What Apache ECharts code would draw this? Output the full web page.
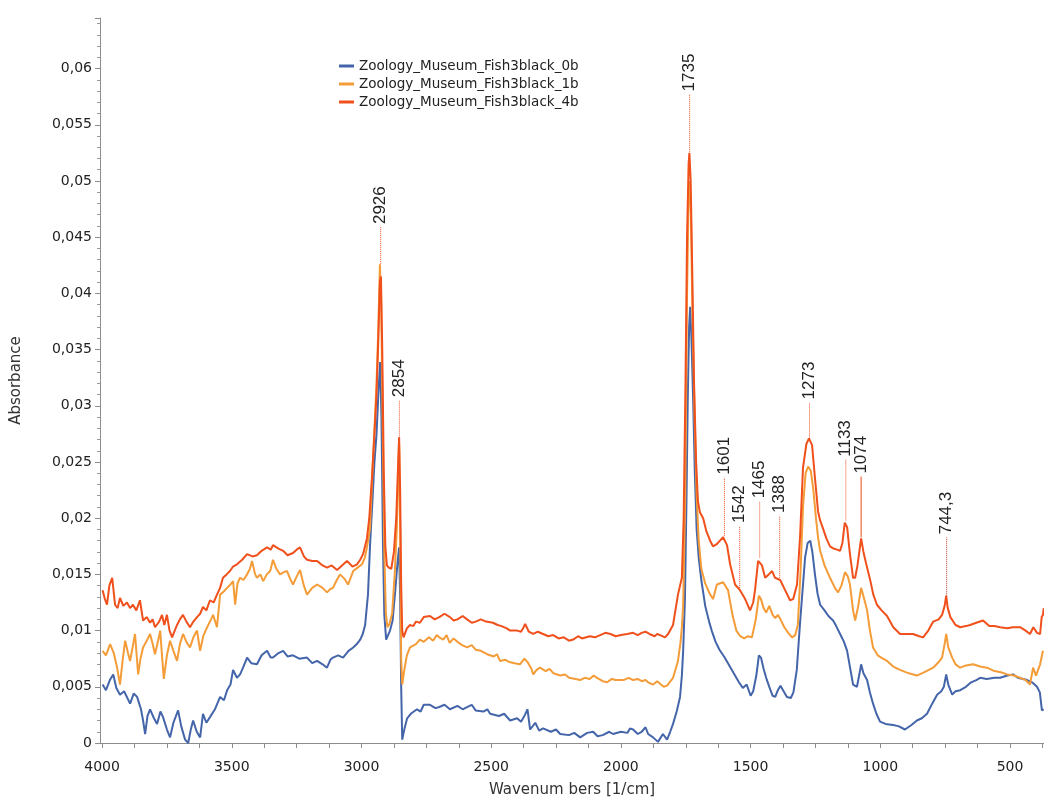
<!DOCTYPE html>
<html><head><meta charset="utf-8">
<script src="https://cdn.jsdelivr.net/npm/echarts@6/dist/echarts.min.js"></script>
<style>html,body{margin:0;padding:0;background:#fff}#c{width:1044px;height:803px}</style>
</head><body><div id="c"></div>
<script>
const seriesNames = ['Zoology_Museum_Fish3black_0b', 'Zoology_Museum_Fish3black_1b', 'Zoology_Museum_Fish3black_4b'];

const spectrum0b = [[3998,0.0052],[3985,0.0047],[3970,0.0056],[3957,0.0061],[3945,0.0049],[3931,0.0043],[3915,0.0046],[3892,0.0035],[3878,0.0044],[3865,0.0041],[3850,0.0030],[3842,0.0020],[3834,0.0008],[3825,0.0024],[3815,0.0030],[3800,0.0022],[3788,0.0017],[3775,0.0028],[3765,0.0023],[3750,0.0012],[3738,0.0005],[3725,0.0018],[3707,0.0029],[3695,0.0015],[3680,0.0003],[3668,0.0000],[3658,0.0012],[3649,0.0020],[3635,0.0010],[3622,0.0005],[3611,0.0026],[3598,0.0018],[3584,0.0023],[3565,0.0030],[3545,0.0041],[3530,0.0038],[3518,0.0047],[3505,0.0052],[3495,0.0065],[3480,0.0058],[3468,0.0061],[3455,0.0068],[3441,0.0076],[3425,0.0071],[3403,0.0070],[3385,0.0078],[3364,0.0082],[3350,0.0076],[3341,0.0076],[3320,0.0080],[3302,0.0082],[3285,0.0077],[3264,0.0078],[3240,0.0075],[3210,0.0076],[3190,0.0071],[3171,0.0073],[3150,0.0070],[3133,0.0067],[3120,0.0074],[3110,0.0076],[3090,0.0078],[3071,0.0076],[3050,0.0082],[3032,0.0085],[3018,0.0088],[3005,0.0092],[2995,0.0097],[2986,0.0105],[2975,0.0132],[2967,0.0176],[2958,0.0215],[2950,0.025],[2942,0.0275],[2935,0.031],[2928,0.0339],[2923,0.029],[2917,0.0174],[2912,0.0114],[2905,0.0092],[2898,0.0093],[2890,0.0100],[2880,0.0109],[2870,0.0135],[2862,0.0158],[2855,0.0174],[2851,0.013],[2847,0.005],[2843,0.0003],[2835,0.0012],[2824,0.0022],[2810,0.0026],[2786,0.0030],[2772,0.0028],[2760,0.0034],[2736,0.0034],[2715,0.0031],[2700,0.0032],[2680,0.0034],[2659,0.0030],[2630,0.0033],[2610,0.0030],[2593,0.0032],[2575,0.0034],[2560,0.0029],[2530,0.0028],[2515,0.0030],[2504,0.0026],[2470,0.0024],[2450,0.0026],[2427,0.0020],[2400,0.0022],[2385,0.0019],[2370,0.0025],[2360,0.0030],[2350,0.0012],[2330,0.0018],[2315,0.0011],[2300,0.0013],[2270,0.0010],[2250,0.0012],[2234,0.0008],[2200,0.0007],[2180,0.0009],[2157,0.0005],[2130,0.0009],[2107,0.0010],[2090,0.0006],[2070,0.0007],[2045,0.0010],[2030,0.0008],[2000,0.0010],[1975,0.0009],[1965,0.0013],[1953,0.0012],[1935,0.0008],[1920,0.0010],[1905,0.0014],[1895,0.0008],[1876,0.0005],[1857,0.0001],[1838,0.0008],[1822,0.0003],[1810,0.0010],[1799,0.0017],[1785,0.0028],[1772,0.0041],[1765,0.0060],[1760,0.0082],[1753,0.0129],[1747,0.022],[1742,0.031],[1737,0.037],[1733,0.0388],[1728,0.036],[1722,0.031],[1715,0.024],[1708,0.019],[1700,0.0165],[1690,0.0145],[1675,0.0122],[1660,0.0108],[1650,0.0100],[1635,0.0090],[1620,0.0083],[1600,0.0076],[1580,0.0068],[1560,0.0060],[1545,0.0054],[1530,0.0049],[1515,0.0052],[1500,0.0042],[1490,0.0046],[1478,0.0060],[1468,0.0078],[1460,0.0076],[1450,0.0066],[1440,0.0058],[1428,0.0050],[1415,0.0042],[1405,0.0041],[1395,0.0047],[1385,0.0051],[1375,0.0047],[1360,0.0041],[1345,0.0040],[1335,0.0045],[1322,0.0065],[1310,0.0105],[1300,0.0135],[1290,0.0165],[1280,0.0178],[1270,0.0180],[1262,0.0170],[1252,0.0150],[1242,0.0133],[1232,0.0123],[1215,0.0118],[1200,0.0113],[1182,0.0109],[1170,0.0104],[1155,0.0097],[1140,0.0090],[1128,0.0082],[1115,0.0065],[1105,0.0052],[1090,0.0050],[1080,0.0062],[1074,0.0070],[1065,0.0062],[1051,0.0056],[1040,0.0045],[1028,0.0035],[1015,0.0026],[1001,0.0019],[980,0.0017],[951,0.0016],[930,0.0015],[905,0.0012],[880,0.0016],[859,0.0020],[840,0.0022],[820,0.0026],[800,0.0035],[781,0.0043],[765,0.0046],[755,0.0050],[746,0.0061],[738,0.0052],[723,0.0043],[710,0.0046],[692,0.0047],[670,0.0050],[650,0.0054],[630,0.0056],[615,0.0058],[590,0.0057],[560,0.0058],[538,0.0058],[510,0.0060],[488,0.0061],[470,0.0058],[450,0.0057],[434,0.0056],[415,0.0054],[396,0.0050],[385,0.0045],[377,0.0029],[370,0.0030]];

const spectrum1b = [[3998,0.0082],[3985,0.0078],[3969,0.0088],[3955,0.0080],[3942,0.0067],[3931,0.0052],[3920,0.0075],[3911,0.0091],[3900,0.0080],[3892,0.0073],[3880,0.0088],[3873,0.0097],[3861,0.0061],[3852,0.0075],[3842,0.0085],[3830,0.0090],[3815,0.0097],[3805,0.0088],[3796,0.0079],[3785,0.0090],[3776,0.0100],[3768,0.0075],[3762,0.0057],[3750,0.0078],[3738,0.0091],[3725,0.0082],[3711,0.0073],[3700,0.0088],[3688,0.0097],[3675,0.0090],[3661,0.0085],[3648,0.0094],[3634,0.0100],[3622,0.0082],[3610,0.0095],[3595,0.0103],[3580,0.0110],[3572,0.0114],[3557,0.0103],[3545,0.0132],[3530,0.0135],[3518,0.0138],[3505,0.0141],[3495,0.0144],[3487,0.0123],[3478,0.0142],[3468,0.0147],[3455,0.0145],[3441,0.0150],[3430,0.0155],[3422,0.0162],[3410,0.0150],[3403,0.0147],[3390,0.0150],[3379,0.0144],[3365,0.0150],[3352,0.0153],[3341,0.0163],[3328,0.0155],[3314,0.0150],[3300,0.0152],[3287,0.0153],[3275,0.0146],[3264,0.0141],[3250,0.0148],[3237,0.0154],[3222,0.0140],[3210,0.0132],[3190,0.0138],[3171,0.0141],[3150,0.0138],[3133,0.0134],[3120,0.0137],[3110,0.0138],[3095,0.0145],[3083,0.0150],[3065,0.0146],[3052,0.0141],[3040,0.0148],[3032,0.0153],[3015,0.0156],[2998,0.0159],[2987,0.0165],[2979,0.0174],[2967,0.0191],[2958,0.024],[2950,0.028],[2942,0.032],[2935,0.037],[2929,0.0426],[2924,0.039],[2918,0.028],[2912,0.017],[2906,0.0115],[2900,0.0103],[2892,0.0106],[2882,0.0115],[2872,0.0150],[2864,0.019],[2858,0.0245],[2855,0.0268],[2851,0.019],[2847,0.0075],[2843,0.0052],[2835,0.0065],[2825,0.0078],[2813,0.0085],[2790,0.0088],[2775,0.0092],[2760,0.0090],[2740,0.0094],[2724,0.0091],[2710,0.0096],[2700,0.0094],[2685,0.0092],[2672,0.0096],[2660,0.0089],[2645,0.0093],[2630,0.0090],[2612,0.0087],[2593,0.0085],[2575,0.0087],[2560,0.0083],[2540,0.0082],[2516,0.0079],[2490,0.0077],[2478,0.0079],[2466,0.0073],[2445,0.0074],[2430,0.0072],[2410,0.0071],[2389,0.0070],[2372,0.0075],[2360,0.0072],[2345,0.0066],[2338,0.0061],[2325,0.0065],[2312,0.0067],[2290,0.0064],[2275,0.0066],[2260,0.0062],[2234,0.0060],[2215,0.0061],[2200,0.0058],[2175,0.0057],[2157,0.0056],[2140,0.0058],[2120,0.0057],[2105,0.0060],[2092,0.0058],[2070,0.0055],[2053,0.0054],[2035,0.0057],[2020,0.0056],[1990,0.0056],[1970,0.0058],[1953,0.0056],[1935,0.0057],[1920,0.0055],[1905,0.0056],[1895,0.0054],[1876,0.0052],[1860,0.0055],[1850,0.0053],[1835,0.0050],[1822,0.0051],[1799,0.0058],[1780,0.0073],[1770,0.0090],[1765,0.0103],[1760,0.0123],[1752,0.022],[1745,0.040],[1739,0.0485],[1735,0.050],[1730,0.047],[1724,0.038],[1716,0.029],[1708,0.022],[1700,0.018],[1690,0.0155],[1675,0.0142],[1660,0.0134],[1645,0.0128],[1630,0.0141],[1606,0.0143],[1587,0.0136],[1570,0.0114],[1555,0.0100],[1540,0.0095],[1525,0.0093],[1510,0.0095],[1495,0.0094],[1480,0.0110],[1468,0.0131],[1460,0.0128],[1450,0.0120],[1440,0.0116],[1428,0.0122],[1415,0.0114],[1405,0.0111],[1395,0.0114],[1385,0.0110],[1370,0.0103],[1355,0.0098],[1340,0.0094],[1328,0.0096],[1318,0.0105],[1308,0.0150],[1298,0.0210],[1288,0.0240],[1278,0.0246],[1268,0.0242],[1258,0.0225],[1248,0.0200],[1240,0.0183],[1232,0.0171],[1215,0.0158],[1194,0.0147],[1175,0.0138],[1163,0.0134],[1150,0.0140],[1136,0.0152],[1125,0.0148],[1117,0.0141],[1105,0.0118],[1097,0.0109],[1085,0.0122],[1074,0.0138],[1062,0.0128],[1051,0.0118],[1040,0.0100],[1028,0.0085],[1010,0.0078],[990,0.0075],[974,0.0073],[950,0.0068],[924,0.0065],[890,0.0062],[859,0.0060],[830,0.0063],[796,0.0067],[775,0.0072],[762,0.0076],[752,0.0088],[746,0.0097],[738,0.0085],[723,0.0076],[710,0.0070],[692,0.0067],[670,0.0069],[642,0.0070],[615,0.0068],[589,0.0067],[560,0.0064],[535,0.0063],[511,0.0061],[485,0.0060],[461,0.0058],[440,0.0056],[423,0.0052],[411,0.0067],[400,0.0060],[384,0.0070],[373,0.0082]];

const spectrum4b = [[3998,0.0136],[3989,0.0128],[3981,0.0123],[3972,0.0140],[3961,0.0147],[3950,0.0123],[3940,0.0120],[3931,0.0129],[3918,0.0122],[3904,0.0125],[3892,0.0120],[3881,0.0123],[3868,0.0118],[3854,0.0127],[3842,0.0109],[3828,0.0112],[3815,0.0107],[3805,0.0110],[3796,0.0103],[3780,0.0108],[3769,0.0114],[3760,0.0105],[3750,0.0114],[3740,0.0100],[3730,0.0094],[3720,0.0100],[3711,0.0105],[3700,0.0110],[3688,0.0114],[3675,0.0108],[3661,0.0103],[3648,0.0108],[3634,0.0112],[3622,0.0115],[3611,0.0121],[3598,0.0118],[3584,0.0127],[3570,0.0125],[3557,0.0132],[3545,0.0138],[3534,0.0147],[3520,0.0150],[3507,0.0153],[3495,0.0157],[3480,0.0159],[3460,0.0163],[3441,0.0168],[3420,0.0166],[3403,0.0167],[3385,0.0171],[3364,0.0174],[3350,0.0172],[3341,0.0176],[3320,0.0173],[3302,0.0171],[3285,0.0167],[3264,0.0169],[3250,0.0172],[3237,0.0174],[3222,0.0166],[3210,0.0163],[3190,0.0162],[3171,0.0162],[3150,0.0158],[3133,0.0156],[3115,0.0158],[3094,0.0154],[3075,0.0158],[3056,0.0162],[3035,0.0157],[3017,0.0159],[3005,0.0163],[2994,0.0168],[2979,0.0182],[2970,0.0200],[2960,0.0235],[2950,0.0275],[2942,0.031],[2935,0.036],[2929,0.0410],[2925,0.0415],[2920,0.035],[2914,0.024],[2908,0.0175],[2902,0.0158],[2895,0.0156],[2885,0.0155],[2875,0.0170],[2866,0.0200],[2860,0.0240],[2855,0.0272],[2851,0.0225],[2847,0.0140],[2843,0.0100],[2838,0.0094],[2825,0.0102],[2813,0.0105],[2800,0.0104],[2790,0.0108],[2775,0.0107],[2760,0.0112],[2736,0.0113],[2718,0.0110],[2700,0.0112],[2680,0.0115],[2659,0.0112],[2645,0.0109],[2630,0.0110],[2610,0.0113],[2593,0.0110],[2575,0.0107],[2560,0.0108],[2540,0.0110],[2520,0.0108],[2493,0.0107],[2475,0.0105],[2460,0.0104],[2440,0.0102],[2427,0.0100],[2400,0.0100],[2385,0.0099],[2375,0.0103],[2369,0.0106],[2355,0.0099],[2338,0.0097],[2320,0.0099],[2300,0.0097],[2280,0.0095],[2261,0.0096],[2240,0.0093],[2220,0.0094],[2200,0.0091],[2184,0.0092],[2165,0.0095],[2150,0.0093],[2120,0.0095],[2100,0.0094],[2080,0.0096],[2060,0.0098],[2040,0.0097],[2020,0.0095],[2000,0.0096],[1975,0.0097],[1953,0.0098],[1935,0.0096],[1920,0.0098],[1905,0.0099],[1890,0.0097],[1870,0.0095],[1860,0.0097],[1849,0.0096],[1830,0.0094],[1818,0.0097],[1799,0.0105],[1780,0.0132],[1765,0.0147],[1758,0.0200],[1751,0.032],[1745,0.045],[1739,0.0515],[1736,0.0525],[1731,0.050],[1725,0.042],[1718,0.032],[1710,0.025],[1703,0.0215],[1695,0.0205],[1683,0.0200],[1670,0.0188],[1656,0.0180],[1645,0.0175],[1630,0.0177],[1618,0.0180],[1606,0.0183],[1591,0.0176],[1579,0.0159],[1560,0.0141],[1541,0.0136],[1521,0.0128],[1502,0.0118],[1490,0.0125],[1483,0.0136],[1471,0.0162],[1456,0.0158],[1444,0.0147],[1430,0.0150],[1417,0.0153],[1406,0.0147],[1386,0.0145],[1367,0.0136],[1348,0.0127],[1336,0.0128],[1321,0.0141],[1309,0.0185],[1298,0.0245],[1285,0.0266],[1275,0.0271],[1263,0.0265],[1252,0.0236],[1240,0.0206],[1232,0.0198],[1221,0.0191],[1208,0.0182],[1194,0.0175],[1180,0.0173],[1167,0.0172],[1155,0.0171],[1146,0.0178],[1137,0.0196],[1128,0.0192],[1118,0.0170],[1105,0.0147],[1097,0.0147],[1088,0.0158],[1074,0.0182],[1065,0.0170],[1055,0.0160],[1040,0.0146],[1027,0.0132],[1013,0.0123],[995,0.0118],[974,0.0113],[950,0.0103],[924,0.0097],[900,0.0097],[874,0.0097],[850,0.0095],[835,0.0094],[815,0.0100],[796,0.0108],[775,0.0110],[762,0.0114],[752,0.0122],[746,0.0131],[740,0.0120],[730,0.0112],[723,0.0112],[710,0.0105],[692,0.0103],[670,0.0104],[654,0.0105],[630,0.0107],[604,0.0109],[580,0.0104],[560,0.0104],[538,0.0103],[510,0.0102],[490,0.0103],[461,0.0103],[440,0.0100],[423,0.0097],[410,0.0103],[396,0.0098],[384,0.0097],[378,0.0112],[373,0.0114],[370,0.0120]];

const peakWn   = [2926, 2854, 1735, 1601, 1542, 1465, 1388, 1273, 1133, 1074, 744.3];
const peakBase = [0.0426, 0.0271, 0.0526, 0.0184, 0.0138, 0.0165, 0.0147, 0.0271, 0.0198, 0.0183, 0.0131];
const peakTop  = [0.0459, 0.0305, 0.0577, 0.0236, 0.0193, 0.0215, 0.0202, 0.0303, 0.0252, 0.0237, 0.0183];
const peakText = ['2926', '2854', '1735', '1601', '1542', '1465', '1388', '1273', '1133', '1074', '744,3'];

const xLabelValues = [4000, 3500, 3000, 2500, 2000, 1500, 1000, 500];
const xTickValues = [4000, 3875, 3750, 3625, 3500, 3375, 3250, 3125, 3000, 2875, 2750, 2625, 2500, 2375, 2250, 2125, 2000, 1875, 1750, 1625, 1500, 1375, 1250, 1125, 1000, 875, 750, 625, 500, 375];

const colors = ['#4465a9', '#f49c38', '#f0501c'];
const spectra = [spectrum0b, spectrum1b, spectrum4b];

const chart = echarts.init(document.getElementById('c'), null, {renderer: 'canvas'});
const lineSeries = spectra.map((d, i) => ({
  name: seriesNames[i],
  type: 'line',
  data: d,
  showSymbol: false,
  symbol: 'none',
  smooth: false,
  lineStyle: {width: 2, color: colors[i]},
  itemStyle: {color: colors[i]},
  z: 2 + i,
  animation: false
}));

const peakSeries = {
  type: 'custom',
  silent: true,
  animation: false,
  z: 10,
  data: peakWn.map((w, i) => [w, peakBase[i], peakTop[i]]),
  renderItem: function (params, api) {
    const i = params.dataIndex;
    const b = api.coord([api.value(0), api.value(1)]);
    const t = api.coord([api.value(0), api.value(2)]);
    const solid = peakText[i] === '1074';
    return {
      type: 'group',
      children: [
        {type: 'line', shape: {x1: b[0], y1: b[1], x2: t[0], y2: t[1]},
         style: {stroke: peakText[i] === '744,3' ? '#b83a22' : '#ee4a20', lineWidth: 1, lineDash: solid ? null : [1, 1]}},
        {type: 'text', x: t[0], y: t[1] - 3, rotation: Math.PI / 2,
         style: {text: peakText[i], fill: '#222', fontSize: 17, fontFamily: '"Liberation Sans", Arial, sans-serif', align: 'left', verticalAlign: 'middle'}}
      ]
    };
  }
};

chart.setOption({
  animation: false,
  backgroundColor: '#fff',
  grid: {left: 100, right: 0, top: 18, bottom: 57, containLabel: false},
  legend: {
    data: seriesNames,
    orient: 'vertical',
    left: 334,
    top: 54,
    itemGap: 4,
    itemWidth: 15,
    itemHeight: 3,
    icon: 'rect',
    textStyle: {fontFamily: '"DejaVu Sans", Verdana, sans-serif', fontSize: 13.5, color: '#222'}
  },
  xAxis: {
    type: 'value',
    inverse: true,
    min: 369,
    max: 4008,
    name: 'Wavenum bers [1/cm]',
    nameLocation: 'middle',
    nameGap: 40,
    nameTextStyle: {fontFamily: '"DejaVu Sans", Verdana, sans-serif', fontSize: 15, color: '#333'},
    axisLine: {show: true, onZero: false, lineStyle: {color: '#8c8c8c', width: 1}},
    axisTick: {show: true, length: 5, customValues: xTickValues, lineStyle: {color: '#8c8c8c'}},
    axisLabel: {customValues: xLabelValues, margin: 17, fontFamily: '"DejaVu Sans", Verdana, sans-serif', fontSize: 14, color: '#222',
      formatter: v => String(Math.round(v))},
    splitLine: {show: false}
  },
  yAxis: {
    type: 'value',
    min: 0,
    max: 0.0645,
    interval: 0.005,
    name: 'Absorbance',
    nameLocation: 'middle',
    nameGap: 76,
    nameRotate: 90,
    nameTextStyle: {fontFamily: '"DejaVu Sans", Verdana, sans-serif', fontSize: 15, color: '#333'},
    axisLine: {show: true, lineStyle: {color: '#8c8c8c', width: 1}},
    axisTick: {show: true, length: 5, lineStyle: {color: '#8c8c8c'}},
    minorTick: {show: true, splitNumber: 5, length: 3, lineStyle: {color: '#9a9a9a'}},
    axisLabel: {
      showMaxLabel: false,
      margin: 8,
      fontFamily: '"DejaVu Sans", Verdana, sans-serif', fontSize: 14, color: '#222',
      formatter: v => String(+v.toFixed(4)).replace('.', ',')
    },
    splitLine: {show: false}
  },
  series: lineSeries.concat([peakSeries])
});
</script>
</body></html>
